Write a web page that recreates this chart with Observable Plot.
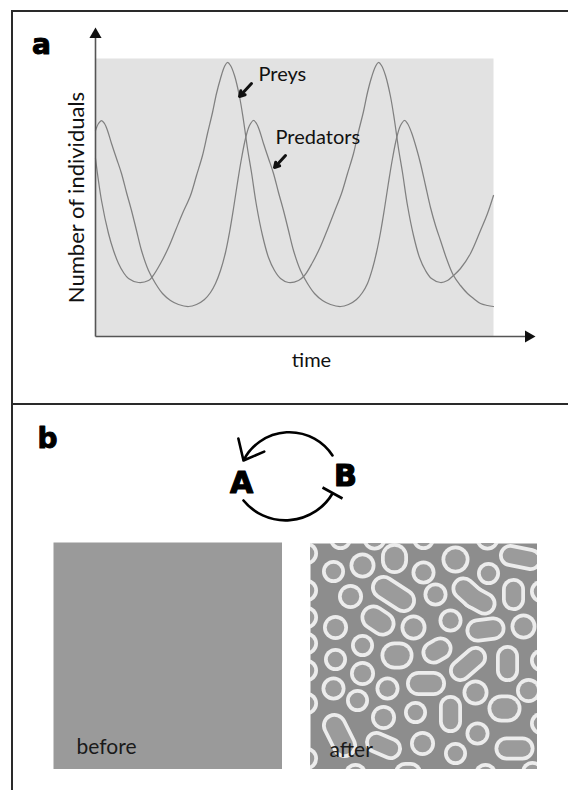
<!DOCTYPE html>
<html><head><meta charset="utf-8">
<script src="https://cdn.jsdelivr.net/npm/d3@7"></script>
<script src="https://cdn.jsdelivr.net/npm/@observablehq/plot@0.6"></script>
<style>
body{margin:0;background:#fff;}
#fig{position:relative;width:568px;height:790px;overflow:hidden;background:#fff;font-family:Lato,"Open Sans",sans-serif;}
.rule{position:absolute;background:#2a2a2a;}
</style></head><body><div id="fig"></div>
<script>
// ---- Panel a data (time, number of individuals) ----
const preyTime = [0,1.5,3.25,4.5,5.75,7,8.25,10.75,13.25,14.25,16.25,18.25,20,21.75,23.75,25.25,26.75,28,29.25,30.25,31.25,32.25,33,33.75,34.75,36,37,38,39,40.25,41.75,43.25,44.75,46.25,48.25,50.75,52.25,54.25,56.25,58,59.75,61.5,63,64.5,65.75,67,68,69,70,70.75,71.5,72.5,73.75,74.75,75.75,76.75,78,79.5,81,82.5,84,86.25,88,89.5,91.25,93.75,96.25,98,99.5];
const preyCount = [178,136,103,86,73,64,58,54,56,60,73,89,106,123,141,161,181,203,224,243,258,270,274,271,261,240,216,188,164,131,101,79,66,58,54,56,61,74,90,107,125,143,163,183,205,225,244,259,270,274,271,261,240,216,188,164,131,101,79,66,58,54,56,61,68,83,106,123,141];
const predatorTime = [0,0.75,1.5,2.25,3,4,5.25,6.5,7.75,9,10.25,11.5,13.25,15,16.75,18.75,20.75,23.25,25.25,27.25,28.75,30,31.25,32.5,33.5,34.5,35.5,36.5,37.5,38.5,39.5,40.25,41,42,43.25,44.5,45.75,47,48.25,49.5,51.25,53,54.75,56.75,58.75,61.25,63.25,65.25,66.75,68,69.25,70.25,71.25,72.25,73.25,74.25,75.25,76.25,77.25,78,79,80.25,81.25,82.5,83.75,85,86.25,87.75,89.5,91.25,93,94.5,96.25,98,99.5];
const predatorCount = [206,213,216,213,206,193,178,163,144,126,106,86,66,53,43,36,32,30,32,37,44,53,66,84,104,128,154,178,198,211,216,213,206,193,178,163,144,126,106,86,66,53,43,36,32,30,32,37,44,53,68,84,104,128,154,178,198,211,216,213,204,188,173,151,129,111,96,78,61,51,43,38,33,31,30];
const seriesLabels = [
  {label: "Preys", t: 40.75, n: 262, t1: 39, n1: 253, t2: 36, n2: 240},
  {label: "Predators", t: 45, n: 199, t1: 47.5, n1: 181, t2: 44.75, n2: 169}
];
const axisLabels = {x: "time", y: "Number of individuals"};

// ---- Panel b data ----
const nodes = [{name: "A", x: -0.94, y: -0.06}, {name: "B", x: 1.14, y: 0.08}];
const activation = [{x1: 0.88, y1: 0.5, x2: -0.9, y2: 0.4}];   // B -> A
const inhibition = [{x1: -0.9, y1: -0.4, x2: 0.88, y2: -0.26}]; // A -| B
const inhibitionBar = [{x1: 0.68, y1: -0.14, x2: 1.08, y2: -0.36}];
const stateLabels = ["before", "after"];
// spots of the "after" pattern: [x1, y1, x2, y2, diameter]
const spots = [
 [30,-5,30,-5,20],[64,-5,64,-5,21],[113,-5,113,-5,20],[177,-5,177,-5,21],[200,12,220,16,20],
 [23,28,23,28,20],[52,22,52,22,23],[84,13,84,17,24],[113,29,113,29,21],[145,16,145,16,25],[178,30,178,30,20],
 [40,53,40,53,22],[73,44,93,57,22],[125,51,125,51,21],[153,45,163,54,21],[163,54,174,60,21],[203,46,203,56,20],
 [25,84,25,84,22],[63,74,72,80,23],[103,84,103,84,23],[140,77,140,77,21],[167,87,183,85,21],[213,83,213,83,23],
 [25,116,25,116,20],[52,102,52,102,20],[84,112,89,112,25],[123,109,130,105,21],[150,127,165,114,20],[197,113,197,127,20],
 [52,130,52,130,22],[23,145,23,145,21],[77,145,77,145,21],[108,140,123,140,22],[165,149,165,149,23],[218,147,218,147,22],
 [47,157,47,157,20],[73,174,73,174,22],[105,169,105,169,20],[140,163,140,178,20],[191,165,197,165,25],
 [24,182,34,202,22],[66,199,80,205,20],[112,200,112,200,22],[145,210,145,210,20],[167,190,167,190,21],[196,205,212,205,21],
 [45,231,45,231,20],[95,230,100,230,20],[175,231,175,231,20],[222,229,222,229,20],
 [-4,10,-4,10,20],[-4,47,-4,47,20],[-4,74,-4,74,20],[-4,100,-4,100,20],[-4,127,-4,127,20],[-4,160,-4,160,20],[-4,215,-4,215,20],
 [231,48,231,48,20],[231,117,231,117,20],[231,180,231,180,20]
];

// ---- build ----
const fig = document.getElementById("fig");
function place(el, left, top) {
  el.style.position = "absolute"; el.style.left = left + "px"; el.style.top = top + "px";
  fig.appendChild(el);
}
const prey = preyTime.map((t, i) => ({t, n: preyCount[i]}));
const predators = predatorTime.map((t, i) => ({t, n: predatorCount[i]}));
const axisLines = [{x1: 0, y1: 0, x2: 0, y2: 302}, {x1: 0, y1: 0, x2: 108.25, y2: 0}];
const axisHeads = [{t: 0, n: 302, rot: 0}, {t: 108.25, n: 0, rot: 90}];

const panelA = Plot.plot({
  width: 568, height: 400,
  marginLeft: 95, marginRight: 75, marginTop: 58, marginBottom: 64,
  x: {domain: [0, 99.5], axis: null},
  y: {domain: [0, 278], axis: null},
  style: {background: "none", overflow: "visible", fontFamily: "Lato"},
  marks: [
    Plot.frame({fill: "#e2e2e2", stroke: "none"}),
    Plot.line(prey, {x: "t", y: "n", stroke: "#808080", strokeWidth: 1.25, curve: "catmull-rom"}),
    Plot.line(predators, {x: "t", y: "n", stroke: "#808080", strokeWidth: 1.25, curve: "catmull-rom"}),
    Plot.link(axisLines, {x1: "x1", y1: "y1", x2: "x2", y2: "y2", stroke: "#555", strokeWidth: 1.6}),
    Plot.dot(axisHeads, {x: "t", y: "n", symbol: "triangle", r: 4.5, fill: "#111", stroke: "none", rotate: "rot"}),
    Plot.arrow(seriesLabels, {x1: "t1", y1: "n1", x2: "t2", y2: "n2", stroke: "#111", strokeWidth: 3, headLength: 8}),
    Plot.text(seriesLabels, {x: "t", y: "n", text: "label", textAnchor: "start", fontSize: 20, fill: "#111"}),
    Plot.text([axisLabels.y], {frameAnchor: "left", textAnchor: "middle", lineAnchor: "middle", dx: -19, rotate: -90, fontSize: 22, fill: "#111"}),
    Plot.text([axisLabels.x], {frameAnchor: "bottom", textAnchor: "middle", lineAnchor: "middle", dx: 17, dy: 24, fontSize: 20, fill: "#111"}),
    Plot.text(["a"], {frameAnchor: "top-left", textAnchor: "middle", lineAnchor: "middle", dx: -54, dy: -13, fontSize: 28, fontWeight: "bold", fontFamily: "DejaVu Sans", fill: "#000", stroke: "#000", strokeWidth: 1})
  ]
});
place(panelA, 0, 0);

const diagram = Plot.plot({
  width: 568, height: 136,
  marginLeft: 188, marginRight: 180, marginTop: 16, marginBottom: 0,
  x: {domain: [-2, 2], axis: null},
  y: {domain: [-1.2, 1.2], axis: null},
  style: {background: "none", overflow: "visible"},
  marks: [
    Plot.arrow(activation, {x1: "x1", y1: "y1", x2: "x2", y2: "y2", bend: -60, stroke: "#000", strokeWidth: 2.6, headLength: 13, headAngle: 80}),
    Plot.arrow(inhibition, {x1: "x1", y1: "y1", x2: "x2", y2: "y2", bend: -55, stroke: "#000", strokeWidth: 2.6, headLength: 0}),
    Plot.link(inhibitionBar, {x1: "x1", y1: "y1", x2: "x2", y2: "y2", stroke: "#000", strokeWidth: 2.6}),
    Plot.text(nodes, {x: "x", y: "y", text: "name", fontSize: 30, fontWeight: "bold", fontFamily: "DejaVu Sans", fill: "#000", stroke: "#000", strokeWidth: 1.2}),
    Plot.text(["b"], {x: -4.82, y: 0.82, fontSize: 28, fontWeight: "bold", fontFamily: "DejaVu Sans", fill: "#000", stroke: "#000", strokeWidth: 1})
  ]
});
place(diagram, 0, 404);

const before = Plot.plot({
  width: 229, height: 227, margin: 0,
  x: {domain: [0, 229], axis: null}, y: {domain: [0, 227], axis: null},
  style: {background: "none", fontFamily: "Lato"},
  marks: [
    Plot.frame({fill: "#9a9a9a", stroke: "none"}),
    Plot.text([stateLabels[0]], {frameAnchor: "bottom-left", textAnchor: "start", lineAnchor: "middle", dx: 23, dy: -22, fontSize: 21, fill: "#1a1a1a"})
  ]
});
place(before, 53, 542);

const spotData = spots.map(([x1, y1, x2, y2, w]) => ({x1, y1, x2: (x1 === x2 && y1 === y2) ? x2 + 0.01 : x2, y2, w: w + 3}));
const after = Plot.plot({
  width: 227, height: 226, margin: 0,
  x: {domain: [0, 227], axis: null}, y: {domain: [0, 226], axis: null, reverse: true},
  style: {background: "none", fontFamily: "Lato"},
  marks: [
    Plot.frame({fill: "#8d8d8d", stroke: "none"}),
    Plot.link(spotData, {x1: "x1", y1: "y1", x2: "x2", y2: "y2", stroke: "#ececec", strokeWidth: "w", strokeLinecap: "round", clip: true}),
    Plot.link(spotData, {x1: "x1", y1: "y1", x2: "x2", y2: "y2", stroke: "#9b9b9b", strokeWidth: d => d.w - 7.5, strokeLinecap: "round", clip: true}),
    Plot.text([stateLabels[1]], {frameAnchor: "bottom-left", textAnchor: "start", lineAnchor: "middle", dx: 19, dy: -19, fontSize: 21, fill: "#1a1a1a"})
  ]
});
after.querySelectorAll('g[aria-label="link"]').forEach(g => g.setAttribute("filter", "blur(0.5px)"));
place(after, 310, 543);

// frame lines
[[11, 10, 557, 2], [11, 10, 2, 780], [11, 403, 557, 2]].forEach(([l, t, w, h]) => {
  const d = document.createElement("div"); d.className = "rule";
  d.style.left = l + "px"; d.style.top = t + "px"; d.style.width = w + "px"; d.style.height = h + "px";
  fig.appendChild(d);
});
</script></body></html>
